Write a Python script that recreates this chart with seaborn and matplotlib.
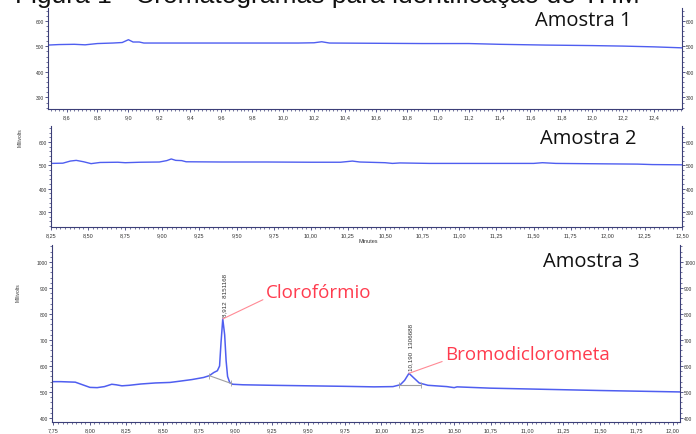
import numpy as np
import pandas as pd
import matplotlib
matplotlib.use("Agg")
import matplotlib.pyplot as plt
from matplotlib.ticker import AutoMinorLocator
import seaborn as sns

# amostra 1 (tempo em minutos, sinal em mV)
t1 = [8.48, 8.55, 8.65, 8.72, 8.80, 8.90, 8.96, 9.00, 9.03, 9.07, 9.10, 9.30, 9.60, 9.90,
      10.10, 10.20, 10.25, 10.30, 10.60, 10.90, 11.20, 11.40, 11.70, 12.00, 12.20, 12.40, 12.59]
mv1 = [505, 507, 508, 506, 511, 513, 515, 526, 517, 517, 513, 513, 513, 513,
       513, 514, 518, 513, 512, 511, 511, 508, 505, 503, 501, 498, 494]

# amostra 2
t2 = [8.25, 8.33, 8.38, 8.42, 8.47, 8.52, 8.58, 8.70, 8.75, 8.85, 8.98, 9.03, 9.06, 9.09,
      9.13, 9.16, 9.40, 9.70, 10.00, 10.20, 10.28, 10.33, 10.50, 10.55, 10.60, 10.80, 11.20,
      11.50, 11.56, 11.65, 12.00, 12.20, 12.30, 12.50]
mv2 = [508, 509, 518, 521, 515, 507, 512, 513, 511, 513, 514, 520, 527, 521,
       520, 515, 514, 514, 513, 513, 518, 514, 511, 508, 510, 508, 508,
       508, 511, 508, 506, 505, 503, 502]

# amostra 3
t3 = [7.74, 7.80, 7.90, 7.95, 8.00, 8.05, 8.10, 8.15, 8.18, 8.22, 8.27, 8.35, 8.45, 8.55,
      8.62, 8.70, 8.78, 8.82, 8.85, 8.875, 8.89, 8.90, 8.912, 8.925, 8.935, 8.945, 8.96,
      8.98, 9.05, 9.25, 9.50, 9.75, 9.95, 10.08, 10.13, 10.16, 10.19, 10.22, 10.26, 10.32,
      10.45, 10.50, 10.52, 10.75, 11.00, 11.50, 11.80, 12.10]
mv3 = [540, 540, 538, 528, 518, 517, 521, 530, 528, 524, 526, 531, 535, 537,
       542, 548, 556, 563, 575, 582, 600, 690, 781, 720, 620, 560, 536,
       530, 528, 526, 524, 522, 520, 521, 528, 545, 572, 556, 535, 526,
       521, 517, 520, 515, 512, 506, 503, 500]

# linhas de base da integracao
base1_t = [8.82, 8.97]
base1_mv = [563, 533]
base2_t = [10.12, 10.27]
base2_mv = [528, 528]

# picos identificados
picos_t = [8.912, 10.190]
picos_mv = [781, 572]
picos_txt = ["8,912  8151168", "10,190  1306688"]
compostos = ["Clorofórmio", "Bromodiclorometa"]
amostras = ["Amostra 1", "Amostra 2", "Amostra 3"]

ticks1 = [8.6, 8.8, 9.0, 9.2, 9.4, 9.6, 9.8, 10.0, 10.2, 10.4, 10.6, 10.8, 11.0, 11.2, 11.4,
          11.6, 11.8, 12.0, 12.2, 12.4]
ticks2 = [8.25, 8.50, 8.75, 9.00, 9.25, 9.50, 9.75, 10.00, 10.25, 10.50, 10.75, 11.00, 11.25,
          11.50, 11.75, 12.00, 12.25, 12.50]
ticks3 = [7.75, 8.00, 8.25, 8.50, 8.75, 9.00, 9.25, 9.50, 9.75, 10.00, 10.25, 10.50, 10.75,
          11.00, 11.25, 11.50, 11.75, 12.00]
yticks12 = [300, 400, 500, 600]
yticks3 = [400, 500, 600, 700, 800, 900, 1000]

sns.set_style("white")
plt.rcParams["font.family"] = ["Liberation Sans", "DejaVu Sans"]

azul = "#4f5ef0"
eixo = "#3c3f78"
vermelho = "#ff3b4e"

W, H = 696, 435
fig = plt.figure(figsize=(6.96, 4.35), dpi=100)


def caixa(esq, dir, topo, base):
    # posicao do eixo a partir de pixels
    return [esq / W, 1 - base / H, (dir - esq) / W, (base - topo) / H]


ax1 = fig.add_axes(caixa(48, 682, 9, 110))
ax2 = fig.add_axes(caixa(51, 682, 127, 228))
ax3 = fig.add_axes(caixa(52, 680, 246, 423))


def virgula(v, casas):
    return f"{v:.{casas}f}".replace(".", ",")


def formata(ax, xt, casas, yt, xlim, ylim):
    ax.set_xlim(*xlim)
    ax.set_ylim(*ylim)
    ax.set_xticks(xt)
    ax.set_xticklabels([virgula(v, casas) for v in xt])
    ax.set_yticks(yt)
    ax.xaxis.set_minor_locator(AutoMinorLocator(8))
    ax.yaxis.set_minor_locator(AutoMinorLocator(5))
    for s in ["left", "right", "bottom"]:
        ax.spines[s].set_visible(True)
        ax.spines[s].set_color(eixo)
        ax.spines[s].set_linewidth(0.8)
    ax.spines["top"].set_visible(False)
    ax.tick_params(which="both", direction="out", colors=eixo, labelcolor="#333333",
                   labelsize=4, left=True, right=True, bottom=True, labelright=True)
    ax.tick_params(which="major", length=2.2, width=0.6, pad=1.5)
    ax.tick_params(axis="y", which="major", labelsize=3.5, pad=0.8)
    ax.tick_params(which="minor", length=1.1, width=0.5)
    ax.set_xlabel("")
    ax.set_ylabel("")


sns.lineplot(x=t1, y=mv1, ax=ax1, color=azul, lw=1, estimator=None, sort=False)
sns.lineplot(x=t2, y=mv2, ax=ax2, color=azul, lw=1, estimator=None, sort=False)
sns.lineplot(x=t3, y=mv3, ax=ax3, color=azul, lw=1.1, estimator=None, sort=False)

for bt, bm in [(base1_t, base1_mv), (base2_t, base2_mv)]:
    ax3.plot(bt, bm, color="#a0a0a0", lw=0.8, marker="|", ms=4, mew=0.6)

formata(ax1, ticks1, 1, yticks12, (8.48, 12.58), (255, 650))
formata(ax2, ticks2, 2, yticks12, (8.25, 12.50), (236, 668))
formata(ax3, ticks3, 2, yticks3, (7.74, 12.05), (385, 1065))

# nomes das amostras (posicao em pixels da figura)
for nome, px, py in zip(amostras, [535, 540, 543], [26, 144, 267]):
    fig.text(px / W, 1 - py / H, nome, fontsize=14.5, family="Open Sans",
             ha="left", va="baseline", color="#111111")

# rotulos dos picos
for pt, pm, txt in zip(picos_t, picos_mv, picos_txt):
    ax3.text(pt + 0.012, pm + 12, txt, rotation=90, ha="center", va="bottom",
             fontsize=4.5, color="#333333")

ax3.annotate(compostos[0], xy=(picos_t[0], picos_mv[0]), xytext=(9.21, 885),
             fontsize=13.5, family="Open Sans", color=vermelho, ha="left", va="center",
             arrowprops=dict(arrowstyle="-", color="#ff8a95", lw=0.8, relpos=(0, 0.15),
                             shrinkA=0, shrinkB=0))
ax3.annotate(compostos[1], xy=(picos_t[1], picos_mv[1]), xytext=(10.44, 646),
             fontsize=13.5, family="Open Sans", color=vermelho, ha="left", va="center",
             arrowprops=dict(arrowstyle="-", color="#ff8a95", lw=0.8, relpos=(0, 0.15),
                             shrinkA=0, shrinkB=0))

fig.text(20 / W, 1 - 138 / H, "Millivolts", rotation=90, fontsize=3.5,
         ha="center", va="center", color="#333333")
fig.text(18 / W, 1 - 293 / H, "Millivolts", rotation=90, fontsize=3.5,
         ha="center", va="center", color="#333333")
fig.text(368 / W, 1 - 242 / H, "Minutes", fontsize=4, ha="center", va="center",
         color="#333333")

# titulo cortado no topo da imagem (como na figura original)
fig.text(15 / W, 1 - 2.5 / H, "Figura 1 - Cromatogramas para identificação de THM",
         fontsize=19, ha="left", va="baseline", color="#111111")

fig.savefig("out.png", dpi=100)
